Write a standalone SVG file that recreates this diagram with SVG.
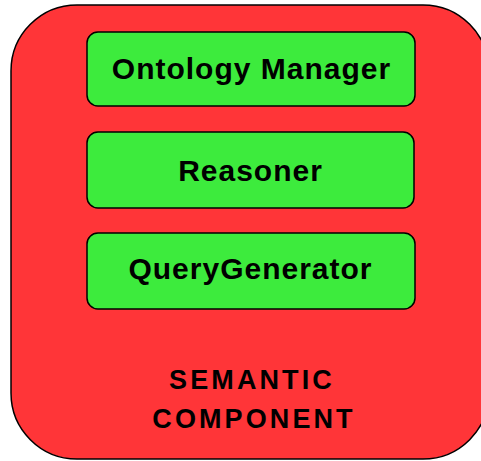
<svg xmlns="http://www.w3.org/2000/svg" width="481" height="461" viewBox="0 0 481 461">
  <style>
    .container { fill: #ff3538; stroke: #000; stroke-width: 1.5; }
    .module { fill: #3deb3d; stroke: #000; stroke-width: 1.5; }
    .label { font-family: "Liberation Sans", Arial, sans-serif; font-weight: bold; font-size: 30px; letter-spacing: 1px; text-anchor: middle; fill: #000; }
    .title { font-family: "Liberation Sans", Arial, sans-serif; font-weight: bold; font-size: 27px; letter-spacing: 3.1px; text-anchor: middle; fill: #000; }
  </style>
  <rect width="481" height="461" fill="#fff"/>
  <g id="semantic-component">
    <rect class="container" x="11" y="5" width="478" height="454" rx="66" ry="66"/>
    <text class="title" x="252" y="389">SEMANTIC</text>
    <text class="title" x="254" y="428">COMPONENT</text>
  </g>
  <g id="ontology-manager">
    <rect class="module" x="87" y="32" width="328" height="74" rx="11" ry="11"/>
    <text class="label" x="251.5" y="79">Ontology Manager</text>
  </g>
  <g id="reasoner">
    <rect class="module" x="87" y="132" width="327" height="76" rx="11" ry="11"/>
    <text class="label" x="250.5" y="181">Reasoner</text>
  </g>
  <g id="query-generator">
    <rect class="module" x="87" y="233" width="328" height="76" rx="11" ry="11"/>
    <text class="label" x="250.5" y="279">QueryGenerator</text>
  </g>
  <g id="connectors"/>
</svg>
